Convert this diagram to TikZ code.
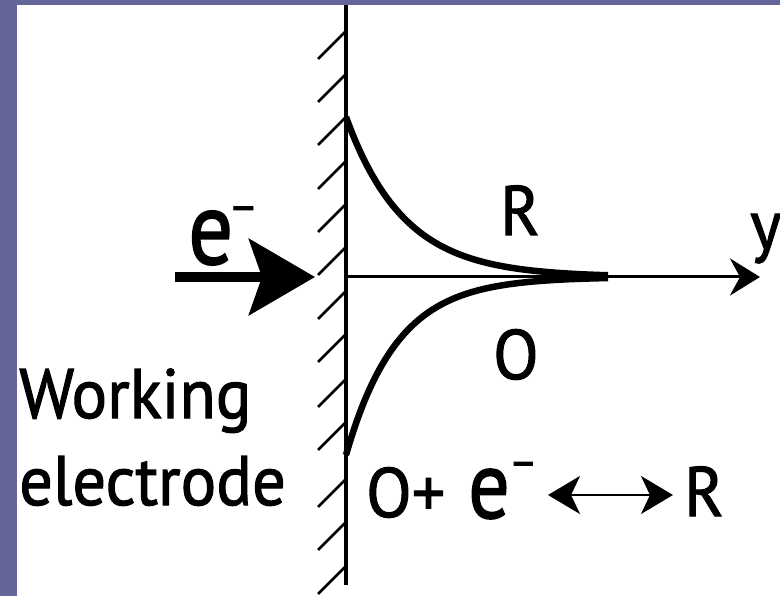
\documentclass[tikz,border=0pt]{standalone}
\usepackage{fontspec}
\usepackage{graphicx}
\setmainfont{PT Sans}[FakeStretch=0.95,FakeBold=1.5]
\usetikzlibrary{arrows.meta}
\definecolor{frame}{HTML}{646699}
\newcommand{\bige}[3]{\scalebox{0.9}[1]{e}\kern#1\raisebox{#2}{\fontsize{#3}{#3}\selectfont –}}
\begin{document}
\begin{tikzpicture}[x=1pt,y=-1pt,
  wall/.style={line width=4.5pt},
  hatch/.style={line width=2.5pt},
  conc/.style={line width=6.5pt},
  axis/.style={line width=3pt,-{Stealth[length=30pt,width=37pt,inset=10pt]}},
  eflow/.style={line width=10pt,-{Stealth[length=66pt,width=76pt,inset=13pt]}},
  equil/.style={line width=2.5pt,{Stealth[length=32pt,width=38pt,inset=9pt]}-{Stealth[length=32pt,width=38pt,inset=9pt]}},
  lbl/.style={inner sep=0pt,anchor=base west,font=\fontsize{70}{84}\selectfont},
  bigA/.style={inner sep=0pt,anchor=base west,font=\fontsize{104}{110}\selectfont},
  bigB/.style={inner sep=0pt,anchor=base west,font=\fontsize{96}{100}\selectfont},
]
\useasboundingbox (0,0) rectangle (780,596);
\fill[frame] (0,0) rectangle (780,596);
\fill[white] (17,5) rectangle (780,596);
% electrode wall
\coordinate (wtop) at (346,5);
\coordinate (wbot) at (346,585);
\draw[wall] (wtop) -- (wbot);
\foreach \t in {32,75,118,162,205,248,292,335,380,423,480,523,567}
  \draw[hatch] (345,\t) -- (318,\t+27);
% axis
\coordinate (orig) at (346,277);
\coordinate (yend) at (760,277);
\draw[axis] (orig) -- (yend);
% concentration profiles
\draw[conc] plot[domain=0:262,samples=120,smooth] ({346+\x},{277-160*exp(-\x/58)});
\draw[conc] plot[domain=0:262,samples=120,smooth] ({346+\x},{277+178*exp(-\x/51)});
% electron flow
\coordinate (ein) at (175,277);
\coordinate (etip) at (315,277);
\draw[eflow] (ein) -- (etip);
% labels
\node[bigA] (elab) at (188,264) {\bige{-5pt}{42pt}{48}};
\node[lbl] (work) at (19,418) {Working};
\node[lbl] (elec) at (19,505) {electrode};
\node[lbl] (Rlab) at (500,235) {R};
\node[lbl] (Olab) at (493,379) {O};
\node[lbl] (ylab) at (750,249) {y};
% equilibrium
\node[lbl] (eqO) at (366,517) {O+};
\node[bigB] (eqe) at (468,518) {\bige{-1pt}{41pt}{46}};
\node[lbl] (eqR) at (684,516) {R};
\coordinate (a1) at (548,495);
\coordinate (a2) at (673,495);
\draw[equil] (a1) -- (a2);
\end{tikzpicture}
\end{document}
